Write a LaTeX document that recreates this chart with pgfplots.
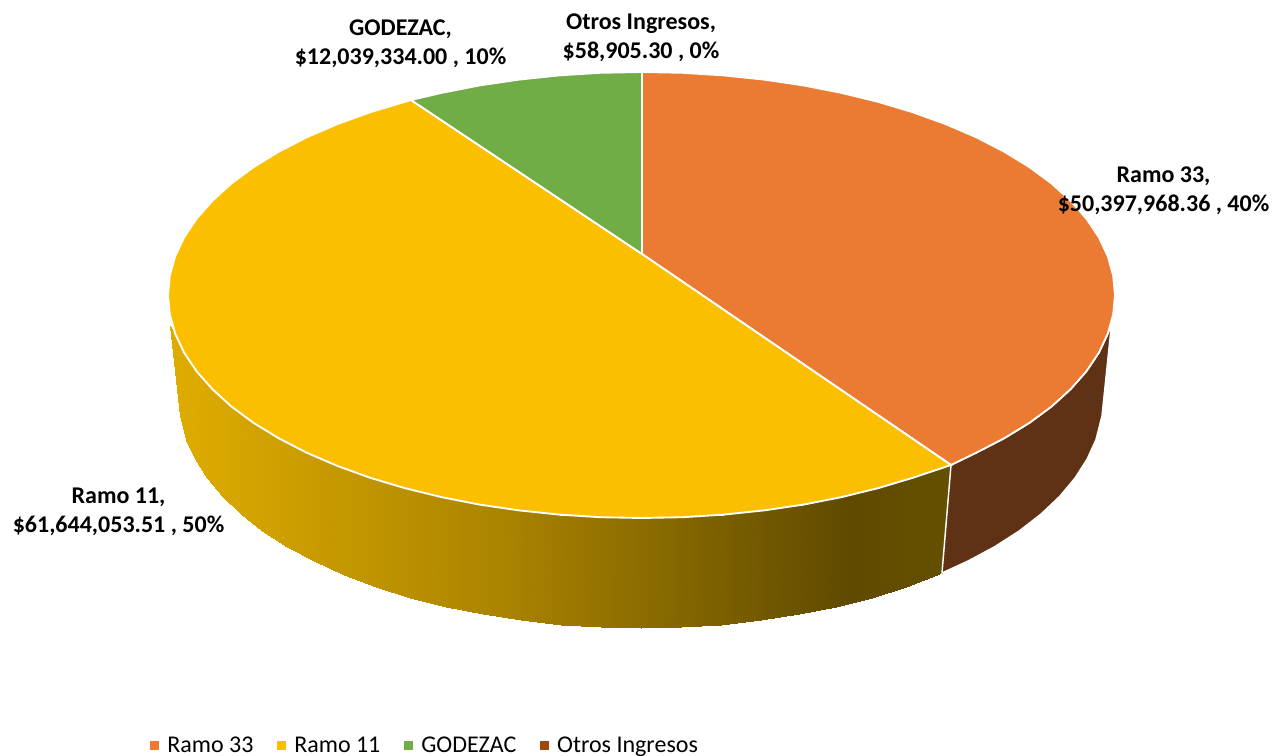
\documentclass[border=0pt]{standalone}
\usepackage{fontspec}
\setmainfont{Carlito}
\usepackage{pgfplots}
\pgfplotsset{compat=1.18}

\definecolor{orangeC}{RGB}{235,123,51}
\definecolor{yellowC}{RGB}{251,191,0}
\definecolor{greenC}{RGB}{112,173,71}
\definecolor{otrosC}{RGB}{158,72,14}
\definecolor{sideC}{RGB}{95,49,21}

\begin{document}
\begin{tikzpicture}
\begin{axis}[
scale only axis,
width=956.25pt, height=567pt,
xmin=0, xmax=1275,
ymin=0, ymax=756,
y dir=reverse,
hide axis,
clip=false,
colormap={yside}{rgb255(0pt)=(222,172,0); rgb255(140pt)=(200,154,0); rgb255(320pt)=(171,132,0); rgb255(620pt)=(106,82,0); rgb255(670pt)=(95,74,0); rgb255(771pt)=(101,79,0)},
point meta min=180, point meta max=951,
legend columns=4,
legend cell align=left,
legend style={draw=none, fill=none, at={(0.1178,0.014)}, anchor=west, inner sep=0pt,
  font=\fontsize{18}{20}\selectfont,
  /tikz/every even column/.append style={column sep=16pt},
  /tikz/every odd column/.append style={column sep=4.25pt}},
legend image code/.code={\fill[#1] (0pt,-3pt) rectangle (6pt,3pt);},
]

% side of the pie, yellow part
\addplot[forget plot, surf, shader=interp, mesh/cols=26, point meta=x] table {
x y
951 465
913.1 477.7
878.3 488.1
841.6 497.1
803.4 504.6
764 510.4
723.7 514.6
682.8 517.2
641.5 518
600.2 517.2
559.3 514.6
519 510.4
479.6 504.6
441.4 497.1
404.7 488.1
369.9 477.7
337.1 465.8
306.7 452.7
278.8 438.3
253.6 422.9
231.4 406.5
212.4 389.2
196.6 371.3
184.1 352.7
175.2 333.7
170.5 326
942 573
906 586.8
872 597.5
836.2 606.6
799 614.2
760.6 620.2
721.2 624.5
681.3 627.1
641 628
600.7 627.1
560.8 624.5
521.4 620.2
483 614.2
445.8 606.6
410 597.5
376 586.8
344 574.7
314.3 561.2
287.1 546.6
262.5 530.8
240.9 514
222.3 496.4
206.9 478
194.8 459
186 439.6
180.1 416
};

% side of the pie, brown part
\addplot[forget plot, fill=sideC, draw=white, line width=1.1pt] coordinates {
(951,465) (976.3,452.7) (1004.2,438.3) (1029.4,422.9) (1051.6,406.5) (1070.6,389.2)
(1086.4,371.3) (1098.9,352.7) (1107.8,333.7) (1111.5,324)
(1102,416) (1096,439.6) (1087.2,459) (1075.1,478) (1059.7,496.4) (1041.1,514)
(1019.5,530.8) (994.9,546.6) (967.7,561.2) (942,573)
} -- cycle;

% Otros Ingresos, a sliver under the white outlines
\addplot[forget plot, fill=otrosC, draw=none] coordinates {
(642,254) (641.6,72) (642.4,72)
} -- cycle;

% Ramo 33
\addplot[forget plot, fill=orangeC, draw=white, line width=1.4pt] coordinates {
(642,254) (642,72) (682.8,72.8) (723.7,75.4) (764,79.6) (803.4,85.4) (841.6,92.9)
(878.3,101.9) (913.1,112.3) (945.9,124.2) (976.3,137.3) (1004.2,151.7) (1029.4,167.1)
(1051.6,183.5) (1070.6,200.8) (1086.4,218.7) (1098.9,237.3) (1107.8,256.3) (1113.2,275.6)
(1115,295) (1113.2,314.4) (1107.8,333.7) (1098.9,352.7) (1086.4,371.3) (1070.6,389.2)
(1051.6,406.5) (1029.4,422.9) (1004.2,438.3) (976.3,452.7) (951,465)
} -- cycle;

% Ramo 11
\addplot[forget plot, fill=yellowC, draw=white, line width=1.4pt] coordinates {
(642,254) (951,465) (913.1,477.7) (878.3,488.1) (841.6,497.1) (803.4,504.6) (764,510.4)
(723.7,514.6) (682.8,517.2) (641.5,518) (600.2,517.2) (559.3,514.6) (519,510.4)
(479.6,504.6) (441.4,497.1) (404.7,488.1) (369.9,477.7) (337.1,465.8) (306.7,452.7)
(278.8,438.3) (253.6,422.9) (231.4,406.5) (212.4,389.2) (196.6,371.3) (184.1,352.7)
(175.2,333.7) (169.8,314.4) (168,295) (169.8,275.6) (175.2,256.3) (184.1,237.3)
(196.6,218.7) (212.4,200.8) (231.4,183.5) (253.6,167.1) (278.8,151.7) (306.7,137.3)
(337.1,124.2) (369.9,112.3) (411,100)
} -- cycle;

% GODEZAC
\addplot[forget plot, fill=greenC, draw=white, line width=1.4pt] coordinates {
(642,254) (411,100) (441.4,92.9) (479.6,85.4) (519,79.6) (559.3,75.4) (600.2,72.8) (642,72)
} -- cycle;

\addlegendimage{orangeC}
\addlegendentry{Ramo 33}
\addlegendimage{yellowC}
\addlegendentry{Ramo 11}
\addlegendimage{greenC}
\addlegendentry{GODEZAC}
\addlegendimage{otrosC}
\addlegendentry{Otros Ingresos}

\tikzset{lbl/.style={align=center, font=\fontsize{18}{21.75}\selectfont\bfseries, inner sep=0pt}}
\node[lbl] at (axis cs:1163.5,190.5) {Ramo 33,\\\$50,397,968.36 , 40\%};
\node[lbl] at (axis cs:400.5,43.5) {GODEZAC,\\\$12,039,334.00 , 10\%};
\node[lbl] at (axis cs:641,37.5) {Otros Ingresos,\\\$58,905.30 , 0\%};
\node[lbl] at (axis cs:118.5,512) {Ramo 11,\\\$61,644,053.51 , 50\%};
\end{axis}
\pgfresetboundingbox
\useasboundingbox (current axis.south west) rectangle (current axis.north east);
\end{tikzpicture}
\end{document}
